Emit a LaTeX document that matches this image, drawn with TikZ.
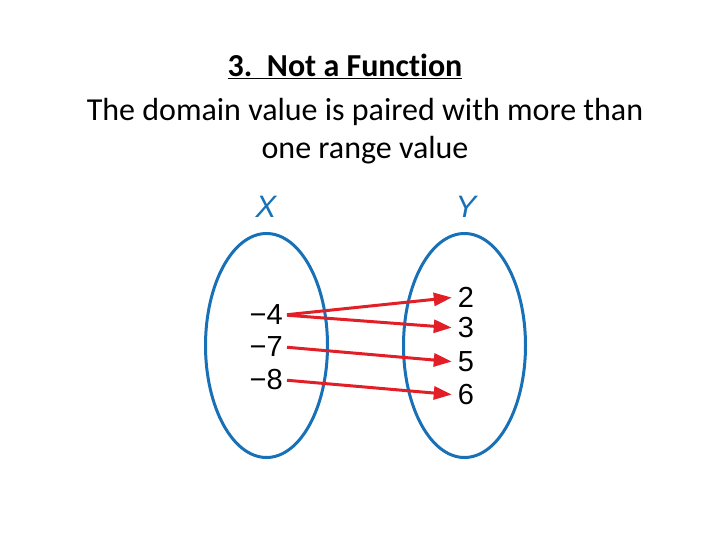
\documentclass[tikz,border=0pt]{standalone}
\usepackage{fontspec}
\setmainfont[Ligatures=NoCommon]{Carlito}
\newfontfamily\numfont{Liberation Sans}
\usepackage{tikz}
\usetikzlibrary{shapes.geometric, arrows.meta, positioning}
\definecolor{setblue}{RGB}{24,112,182}
\definecolor{maparrow}{RGB}{226,30,38}

\begin{document}
\begin{tikzpicture}[
    x=1pt, y=-1pt,
    % Styles
    setoval/.style={ellipse, draw=setblue, line width=3pt, minimum width=122pt, minimum height=224pt, inner sep=0pt},
    setname/.style={font=\numfont\itshape\fontsize{31}{31}\selectfont, text=setblue},
    elem/.style={font=\numfont\fontsize{29}{29}\selectfont, inner sep=1pt},
    arrow/.style={-{Triangle[length=18pt, width=13pt]}, line width=3pt, maparrow, shorten <=3pt, shorten >=5pt},
]
\useasboundingbox (0,0) rectangle (720,540);

% === HEADING ===
\node[font=\bfseries\fontsize{32}{36}\selectfont] (title) at (345,66) {\underline{3.\ \ Not a Function}};
\node[align=center, font=\fontsize{32}{38}\selectfont] (desc) at (365,131) {The domain value is paired with more than\\one range value};

% === SETS ===
\node[setoval] (domain) at (266.5,345.5) {};
\node[setoval] (range) at (464.5,345.5) {};
\node[setname] (xname) at (266,207) {X};
\node[setname] (yname) at (466,207) {Y};

% Domain values
\node[elem, anchor=east] (m4) at (284,315) {−4};
\node[elem, anchor=east] (m7) at (284,347) {−7};
\node[elem, anchor=east] (m8) at (284,380) {−8};

% Range values
\node[elem] (r2) at (466,297) {2};
\node[elem] (r3) at (466,328) {3};
\node[elem] (r5) at (466,362) {5};
\node[elem] (r6) at (466,395) {6};

% Mapping arrows
\draw[arrow] (m4.east) -- (r2.west);
\draw[arrow] (m4.east) -- (r3.west);
\draw[arrow] (m7.east) -- (r5.west);
\draw[arrow] (m8.east) -- (r6.west);

\end{tikzpicture}
\end{document}
